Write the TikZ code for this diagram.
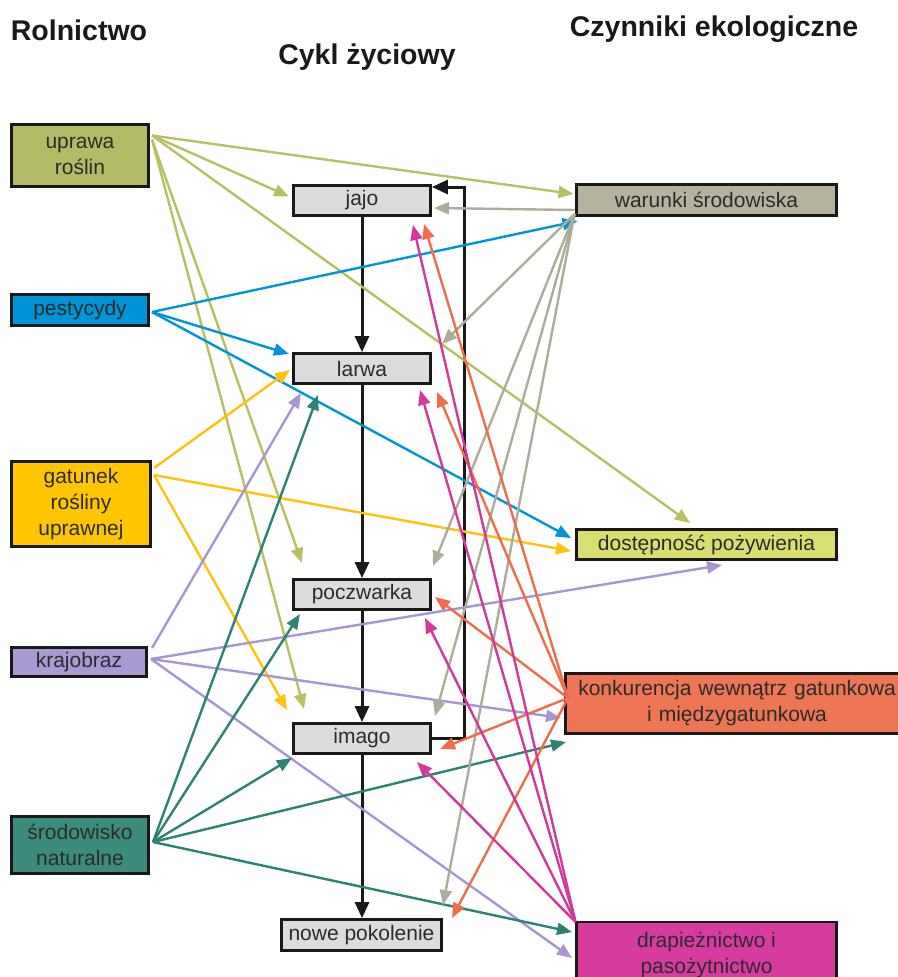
\documentclass[tikz,border=0pt]{standalone}
\usepackage{fontspec}
\setmainfont{Liberation Sans}
\usetikzlibrary{arrows.meta}
\definecolor{txt}{HTML}{2B2B2B}
\definecolor{fUp}{HTML}{B4BB66}
\definecolor{fPe}{HTML}{0094D6}
\definecolor{fGa}{HTML}{FFC600}
\definecolor{fKr}{HTML}{A99AD2}
\definecolor{fSn}{HTML}{3D8B7C}
\definecolor{fMid}{HTML}{DCDCDC}
\definecolor{fWa}{HTML}{B5B39D}
\definecolor{fDo}{HTML}{D8DF70}
\definecolor{fKo}{HTML}{EE7556}
\definecolor{fDr}{HTML}{D53C9E}
\definecolor{aOl}{HTML}{B8C063}
\definecolor{aBl}{HTML}{0095DA}
\definecolor{aYe}{HTML}{FFC20E}
\definecolor{aPu}{HTML}{A896D3}
\definecolor{aTe}{HTML}{2E8272}
\definecolor{aGr}{HTML}{AEAC9A}
\definecolor{aSa}{HTML}{F26B4A}
\definecolor{aMa}{HTML}{D1399A}
\begin{document}
\begin{tikzpicture}[x=1pt,y=-1pt,
  box/.style={draw=black!90, line width=2.8pt, inner sep=0pt, align=center,
    text=txt, font=\fontsize{21}{26}\selectfont},
  title/.style={anchor=base, inner sep=0pt, text=black!90,
    font=\fontsize{28.5}{34}\selectfont\bfseries},
  arr/.style={line width=2.4pt, -{Triangle[length=15pt,width=12pt]}},
  blk/.style={line width=3pt, draw=black!90, -{Triangle[length=16pt,width=14pt]}}]
\useasboundingbox (0,0) rectangle (897,977);
% titles
\node[title] (t1) at (79,40) {Rolnictwo};
\node[title] (t2) at (367,64) {Cykl życiowy};
\node[title] (t3) at (714,36) {Czynniki ekologiczne};
% left boxes
\node[box, fill=fUp, minimum width=137pt, minimum height=62pt] (up) at (80,155.5) {uprawa\\roślin};
\node[box, fill=fPe, minimum width=137pt, minimum height=31pt] (pe) at (80,310) {pestycydy};
\node[box, fill=fGa, minimum width=139pt, minimum height=85pt] (ga) at (81,504) {gatunek\\rośliny\\uprawnej};
\node[box, fill=fKr, minimum width=135pt, minimum height=29pt] (kr) at (79,662) {krajobraz};
\node[box, fill=fSn, minimum width=137pt, minimum height=57pt] (sn) at (80,845) {środowisko\\naturalne};
% centre boxes
\node[box, fill=fMid, minimum width=137pt, minimum height=30pt] (jajo) at (362,200.5) {jajo};
\node[box, fill=fMid, minimum width=137pt, minimum height=30pt] (larwa) at (362,368.5) {larwa};
\node[box, fill=fMid, minimum width=137pt, minimum height=30pt] (pocz) at (362,594.5) {poczwarka};
\node[box, fill=fMid, minimum width=137pt, minimum height=30pt] (imago) at (362,738.5) {imago};
\node[box, fill=fMid, minimum width=160pt, minimum height=31pt] (nowe) at (361.5,935) {nowe pokolenie};
% right boxes
\node[box, fill=fWa, minimum width=260pt, minimum height=31pt] (war) at (706.5,200) {warunki środowiska};
\node[box, fill=fDo, minimum width=260pt, minimum height=30pt] (dos) at (706.5,544.5) {dostępność pożywienia};
\node[box, fill=fKo, minimum width=343pt, minimum height=60pt, text width=340pt] (kon) at (737,703.5) {konkurencja wewnątrz gatunkowa\\i międzygatunkowa};
\node[box, fill=fDr, minimum width=260pt, minimum height=66pt] (drap) at (706.5,955) {drapieżnictwo i\\pasożytnictwo};
% life cycle
\draw[blk] (jajo.south) -- (larwa.north);
\draw[blk] (larwa.south) -- (pocz.north);
\draw[blk] (pocz.south) -- (imago.north);
\draw[blk] (imago.south) -- (imago.south |- nowe.north);
\draw[blk] (imago.east) -- ++(33,0) |- ([shift={(0,-13.5)}]jajo.east);
% uprawa roslin
\begin{scope}[arr, draw=aOl, fill=aOl]
\draw ([shift={(72,-20)}]up.center) -- ([shift={(-133,-6)}]war.center);
\draw ([shift={(72,-20)}]up.center) -- ([shift={(-73,-4)}]jajo.center);
\draw ([shift={(72,-20)}]up.center) -- ([shift={(-16.5,-21.5)}]dos.center);
\draw ([shift={(72,-16)}]up.center) -- ([shift={(-60,-31.5)}]pocz.center);
\draw ([shift={(72,-16)}]up.center) -- ([shift={(-58,-29.5)}]imago.center);
\end{scope}
% pestycydy
\begin{scope}[arr, draw=aBl, fill=aBl]
\draw ([shift={(72,2)}]pe.center) -- ([shift={(-129,21)}]war.center);
\draw ([shift={(72,2)}]pe.center) -- ([shift={(-73,-14.5)}]larwa.center);
\draw ([shift={(72,2)}]pe.center) -- ([shift={(-135.5,-6.5)}]dos.center);
\end{scope}
% gatunek
\begin{scope}[arr, draw=aYe, fill=aYe]
\draw ([shift={(73,-36)}]ga.center) -- ([shift={(-72,1.5)}]larwa.center);
\draw ([shift={(73,-29)}]ga.center) -- ([shift={(-135.5,6.5)}]dos.center);
\draw ([shift={(73,-29)}]ga.center) -- ([shift={(-75,-28.5)}]imago.center);
\end{scope}
% krajobraz
\begin{scope}[arr, draw=aPu, fill=aPu]
\draw ([shift={(73,-14)}]kr.center) -- ([shift={(-61,24.5)}]larwa.center);
\draw ([shift={(72,-3)}]kr.center) -- ([shift={(15.5,20.5)}]dos.center);
\draw ([shift={(72,-3)}]kr.center) -- ([shift={(-176,14.5)}]kon.center);
\draw ([shift={(72,-3)}]kr.center) -- ([shift={(-134.5,3)}]drap.center);
\end{scope}
% srodowisko naturalne
\begin{scope}[arr, draw=aTe, fill=aTe]
\draw ([shift={(73,-3)}]sn.center) -- ([shift={(-44,26.5)}]larwa.center);
\draw ([shift={(73,-3)}]sn.center) -- ([shift={(-62,19.5)}]pocz.center);
\draw ([shift={(73,-3)}]sn.center) -- ([shift={(-70,19.5)}]imago.center);
\draw ([shift={(73,-3)}]sn.center) -- ([shift={(-171,38.5)}]kon.center);
\draw ([shift={(73,-3)}]sn.center) -- ([shift={(-134.5,-23)}]drap.center);
\end{scope}
% warunki srodowiska
\begin{scope}[arr, draw=aGr, fill=aGr]
\draw ([shift={(-132,10)}]war.center) -- ([shift={(72,7.5)}]jajo.center);
\draw ([shift={(-132,14)}]war.center) -- ([shift={(80,-24.5)}]larwa.center);
\draw ([shift={(-132,14)}]war.center) -- ([shift={(71,-28.5)}]pocz.center);
\draw ([shift={(-132,14)}]war.center) -- ([shift={(73,-22.5)}]imago.center);
\draw ([shift={(-132,14)}]war.center) -- ([shift={(81.5,-30)}]nowe.center);
\end{scope}
% konkurencja
\begin{scope}[arr, draw=aSa, fill=aSa]
\draw ([shift={(-169,-5.5)}]kon.center) -- ([shift={(62,23.5)}]jajo.center);
\draw ([shift={(-169,-5.5)}]kon.center) -- ([shift={(75,23.5)}]larwa.center);
\draw ([shift={(-169,-5.5)}]kon.center) -- ([shift={(73,2.5)}]pocz.center);
\draw ([shift={(-169,-5.5)}]kon.center) -- ([shift={(78,10.5)}]imago.center);
\draw ([shift={(-169,-5.5)}]kon.center) -- ([shift={(90.5,-17)}]nowe.center);
\end{scope}
% drapieznictwo
\begin{scope}[arr, draw=aMa, fill=aMa]
\draw ([shift={(-131,-33)}]drap.center) -- ([shift={(51,24.5)}]jajo.center);
\draw ([shift={(-131,-33)}]drap.center) -- ([shift={(58,21.5)}]larwa.center);
\draw ([shift={(-131,-33)}]drap.center) -- ([shift={(63,23.5)}]pocz.center);
\draw ([shift={(-131,-33)}]drap.center) -- ([shift={(55,23.5)}]imago.center);
\end{scope}
\end{tikzpicture}
\end{document}
